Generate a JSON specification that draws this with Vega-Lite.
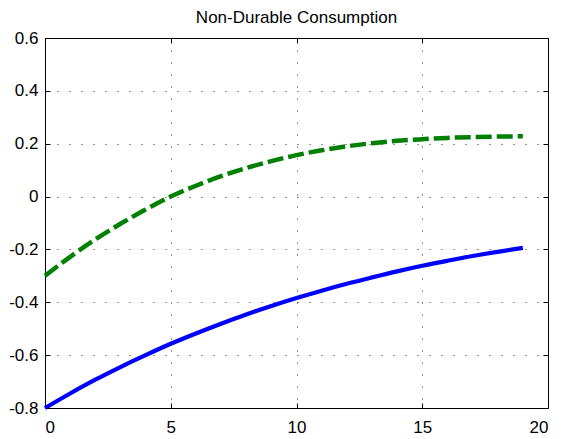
{
  "$schema": "https://vega.github.io/schema/vega-lite/v6.json",
  "autosize": {"type": "none"},
  "padding": {"left": 45, "top": 38, "right": 13, "bottom": 31},
  "width": 503,
  "height": 370,
  "background": "white",
  "title": {"text": "Non-Durable Consumption", "font": "Liberation Sans", "fontSize": 17, "fontWeight": "normal", "color": "#000000", "offset": 2, "anchor": "middle"},
  "config": {
    "view": {"stroke": null},
    "axis": {
      "domainColor": "#000000", "domainWidth": 1, "tickColor": "#000000", "tickWidth": 1, "tickSize": -5,
      "labelFont": "Liberation Sans", "labelFontSize": 17, "labelColor": "#000000",
      "gridColor": "#000000", "gridDash": [1, 11], "gridWidth": 1, "gridOpacity": 0.85, "title": null
    }
  },
  "data": {"values": [
    {"t": 0, "series": "s1", "value": -0.800}, {"t": 1, "series": "s1", "value": -0.745}, {"t": 2, "series": "s1", "value": -0.693},
    {"t": 3, "series": "s1", "value": -0.645}, {"t": 4, "series": "s1", "value": -0.600}, {"t": 5, "series": "s1", "value": -0.557},
    {"t": 6, "series": "s1", "value": -0.518}, {"t": 7, "series": "s1", "value": -0.481}, {"t": 8, "series": "s1", "value": -0.446},
    {"t": 9, "series": "s1", "value": -0.414}, {"t": 10, "series": "s1", "value": -0.384}, {"t": 11, "series": "s1", "value": -0.356},
    {"t": 12, "series": "s1", "value": -0.330}, {"t": 13, "series": "s1", "value": -0.306}, {"t": 14, "series": "s1", "value": -0.283},
    {"t": 15, "series": "s1", "value": -0.262}, {"t": 16, "series": "s1", "value": -0.243}, {"t": 17, "series": "s1", "value": -0.225},
    {"t": 18, "series": "s1", "value": -0.209}, {"t": 19, "series": "s1", "value": -0.194},
    {"t": 0, "series": "s2", "value": -0.300}, {"t": 1, "series": "s2", "value": -0.228}, {"t": 2, "series": "s2", "value": -0.162},
    {"t": 3, "series": "s2", "value": -0.103}, {"t": 4, "series": "s2", "value": -0.049}, {"t": 5, "series": "s2", "value": 0.000},
    {"t": 6, "series": "s2", "value": 0.041}, {"t": 7, "series": "s2", "value": 0.077}, {"t": 8, "series": "s2", "value": 0.108},
    {"t": 9, "series": "s2", "value": 0.134}, {"t": 10, "series": "s2", "value": 0.157}, {"t": 11, "series": "s2", "value": 0.175},
    {"t": 12, "series": "s2", "value": 0.190}, {"t": 13, "series": "s2", "value": 0.202}, {"t": 14, "series": "s2", "value": 0.211},
    {"t": 15, "series": "s2", "value": 0.217}, {"t": 16, "series": "s2", "value": 0.222}, {"t": 17, "series": "s2", "value": 0.225},
    {"t": 18, "series": "s2", "value": 0.227}, {"t": 19, "series": "s2", "value": 0.228}
  ]},
  "resolve": {"axis": {"x": "independent", "y": "independent"}},
  "layer": [
    {
      "transform": [{"filter": "datum.series == 's1'"}],
      "mark": {"type": "line", "color": "#0000ff", "strokeWidth": 4.2, "interpolate": "monotone"},
      "encoding": {
        "x": {"field": "t", "type": "quantitative", "scale": {"domain": [0, 20], "nice": false},
              "axis": {"orient": "bottom", "values": [0, 5, 10, 15, 20], "grid": true, "labelPadding": 16, "labelAngle": 0}},
        "y": {"field": "value", "type": "quantitative", "scale": {"domain": [-0.8, 0.6], "nice": false, "zero": false},
              "axis": {"orient": "left", "values": [-0.8, -0.6, -0.4, -0.2, 0, 0.2, 0.4, 0.6], "grid": true, "labelPadding": 12,
                       "labelExpr": "datum.value == 0 ? '0' : (datum.value < 0 ? '-' : '') + format(abs(datum.value), '.1f')"}}
      }
    },
    {
      "transform": [{"filter": "datum.series == 's2'"}],
      "mark": {"type": "line", "color": "#008000", "strokeWidth": 4.5, "strokeDash": [16, 5], "interpolate": "monotone"},
      "encoding": {
        "x": {"field": "t", "type": "quantitative", "scale": {"domain": [0, 20], "nice": false},
              "axis": {"orient": "top", "values": [0, 5, 10, 15, 20], "grid": false, "labels": false}},
        "y": {"field": "value", "type": "quantitative", "scale": {"domain": [-0.8, 0.6], "nice": false, "zero": false},
              "axis": {"orient": "right", "values": [-0.8, -0.6, -0.4, -0.2, 0, 0.2, 0.4, 0.6], "grid": false, "labels": false}}
      }
    }
  ]
}
